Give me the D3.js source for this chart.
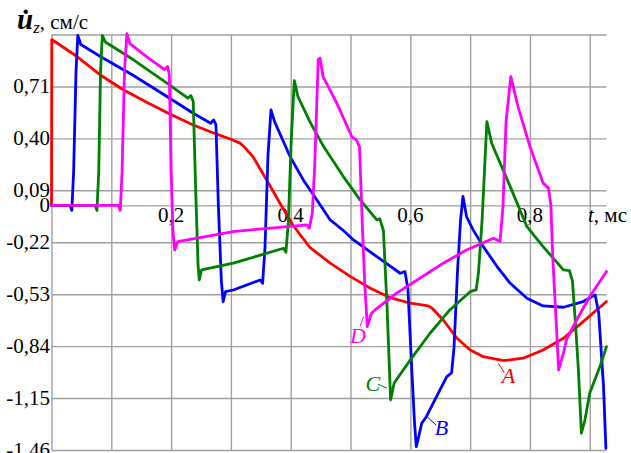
<!DOCTYPE html>
<html>
<head>
<meta charset="utf-8">
<script src="https://cdn.jsdelivr.net/npm/d3@7"></script>
<style>
  html, body { margin: 0; padding: 0; background: #ffffff; }
  svg { display: block; }
</style>
</head>
<body>
<svg id="chart" width="631" height="453" font-family="'Liberation Serif', 'Times New Roman', Times, serif"></svg>
<script>
// ---- data (t in ms, u̇z in cm/s) ----
const yTickValues = [0.71, 0.40, 0.09, 0, -0.22, -0.53, -0.84, -1.15, -1.46];
const yGridValues = [1.02, 0.71, 0.40, 0.09, 0, -0.22, -0.53, -0.84, -1.15, -1.46];
const xTickValues = [0.2, 0.4, 0.6, 0.8];
const xGridValues = [0, 0.1, 0.2, 0.3, 0.4, 0.5, 0.6, 0.7, 0.8, 0.9];

const seriesA = [[0,0],[0.0005,0.99],[0.042,0.89],[0.081,0.78],[0.12,0.69],[0.159,0.615],[0.198,0.545],[0.237,0.48],[0.276,0.425],[0.3,0.395],[0.316,0.37],[0.322,0.35],[0.337,0.29],[0.36,0.15],[0.382,0.013],[0.404,-0.12],[0.432,-0.25],[0.466,-0.345],[0.5,-0.425],[0.533,-0.494],[0.566,-0.55],[0.6,-0.584],[0.63,-0.6],[0.637,-0.615],[0.655,-0.684],[0.678,-0.793],[0.7,-0.863],[0.722,-0.903],[0.756,-0.927],[0.789,-0.912],[0.822,-0.863],[0.856,-0.793],[0.889,-0.694],[0.928,-0.574]];

const seriesB = [[0,0],[0.031,0],[0.034,-0.03],[0.037,0.2],[0.041,0.8],[0.044,1.015],[0.049,0.96],[0.081,0.89],[0.137,0.775],[0.193,0.65],[0.237,0.55],[0.266,0.49],[0.271,0.51],[0.275,0.48],[0.279,0.0],[0.284,-0.45],[0.287,-0.575],[0.291,-0.515],[0.304,-0.505],[0.349,-0.445],[0.353,-0.465],[0.357,-0.25],[0.362,0.3],[0.367,0.57],[0.373,0.5],[0.399,0.29],[0.421,0.152],[0.446,0.02],[0.466,-0.087],[0.488,-0.15],[0.505,-0.206],[0.544,-0.306],[0.583,-0.405],[0.591,-0.395],[0.596,-0.5],[0.602,-0.95],[0.607,-1.3],[0.61,-1.44],[0.614,-1.38],[0.619,-1.3],[0.627,-1.26],[0.644,-1.14],[0.661,-1.022],[0.669,-1.0],[0.673,-0.85],[0.679,-0.385],[0.684,-0.087],[0.688,0.053],[0.694,-0.067],[0.705,-0.146],[0.722,-0.246],[0.745,-0.365],[0.767,-0.465],[0.795,-0.554],[0.822,-0.6],[0.856,-0.608],[0.889,-0.574],[0.909,-0.534],[0.915,-0.644],[0.923,-1.08],[0.927,-1.45]];

const seriesC = [[0,0],[0.073,0],[0.076,-0.03],[0.079,0.2],[0.082,0.8],[0.085,1.015],[0.09,0.975],[0.137,0.869],[0.193,0.73],[0.228,0.64],[0.233,0.655],[0.237,0.62],[0.241,0.1],[0.245,-0.35],[0.247,-0.445],[0.251,-0.385],[0.304,-0.345],[0.388,-0.256],[0.392,-0.28],[0.396,-0.1],[0.401,0.4],[0.406,0.745],[0.412,0.65],[0.432,0.5],[0.455,0.351],[0.488,0.172],[0.516,0.033],[0.544,-0.087],[0.549,-0.08],[0.555,-0.15],[0.561,-0.6],[0.567,-1.16],[0.573,-1.06],[0.6,-0.922],[0.633,-0.763],[0.666,-0.624],[0.7,-0.515],[0.71,-0.504],[0.714,-0.4],[0.72,-0.087],[0.728,0.5],[0.736,0.371],[0.767,0.112],[0.795,-0.127],[0.822,-0.246],[0.856,-0.385],[0.866,-0.39],[0.871,-0.45],[0.876,-0.7],[0.881,-0.98],[0.886,-1.36],[0.892,-1.28],[0.9,-1.12],[0.917,-0.962],[0.928,-0.843]];

const seriesD = [[0,0],[0.112,0],[0.115,-0.03],[0.118,0.2],[0.122,0.8],[0.126,1.025],[0.131,0.965],[0.159,0.888],[0.189,0.81],[0.194,0.829],[0.197,0.78],[0.2,0.2],[0.203,-0.15],[0.206,-0.266],[0.211,-0.216],[0.304,-0.156],[0.427,-0.116],[0.431,-0.136],[0.436,-0.05],[0.44,0.23],[0.446,0.87],[0.449,0.879],[0.454,0.769],[0.477,0.61],[0.502,0.411],[0.51,0.39],[0.515,0.35],[0.52,-0.146],[0.524,-0.485],[0.528,-0.724],[0.535,-0.644],[0.541,-0.624],[0.577,-0.524],[0.616,-0.435],[0.655,-0.345],[0.694,-0.266],[0.739,-0.196],[0.75,-0.216],[0.755,0],[0.76,0.5],[0.768,0.769],[0.78,0.59],[0.8,0.351],[0.822,0.133],[0.831,0.103],[0.835,0.0],[0.838,-0.3],[0.848,-0.982],[0.856,-0.882],[0.861,-0.803],[0.878,-0.684],[0.9,-0.544],[0.928,-0.395]];

const seriesNames = ["A", "B", "C", "D"];
const seriesColors = ["#ff0000", "#0000ff", "#008000", "#ff00ff"];

// ---- layout ----
const svg = d3.select("#chart");
const x = d3.scaleLinear().domain([0, 0.928]).range([51.5, 606.5]);
const y = d3.scaleLinear().domain([-1.46, 1.02]).range([450, 34.5]);
const fmt = v => (v === 0 ? "0" : (v < 0 ? "-" : "") + Math.abs(v).toFixed(2).replace(".", ","));
const fmtX = v => v.toFixed(1).replace(".", ",");

// grid
const gridColor = "#a0a0a0";
svg.append("g")
  .attr("transform", `translate(${x.range()[0]},0)`)
  .call(d3.axisLeft(y).tickValues(yGridValues).tickSize(-(x.range()[1] - x.range()[0])).tickFormat(""))
  .call(g => g.select(".domain").remove())
  .call(g => g.selectAll("line").attr("stroke", gridColor).attr("stroke-width", 1.4));

svg.append("g")
  .attr("transform", `translate(0,${y.range()[0]})`)
  .call(d3.axisBottom(x).tickValues(xGridValues).tickSize(-(y.range()[0] - y.range()[1])).tickFormat(""))
  .call(g => g.select(".domain").remove())
  .call(g => g.selectAll("line").attr("stroke", gridColor).attr("stroke-width", 1.4));

const FF = "'Liberation Serif', 'Times New Roman', Times, serif";

// y labels
svg.append("g").selectAll("text").data(yTickValues).join("text")
  .attr("font-family", FF)
  .attr("x", 50).attr("y", d => y(d)).attr("dy", "0.33em")
  .attr("text-anchor", "end").attr("font-size", 21)
  .text(fmt);

// x labels
svg.append("g").selectAll("text").data(xTickValues).join("text")
  .attr("font-family", FF)
  .attr("x", d => x(d)).attr("y", 222)
  .attr("text-anchor", "middle").attr("font-size", 21)
  .text(fmtX);

// x title
const xt = svg.append("text").attr("font-family", FF).attr("x", 588).attr("y", 222).attr("font-size", 21);
xt.append("tspan").attr("font-style", "italic").text("t");
xt.append("tspan").text(", мс");

// y title
const yt = svg.append("text").attr("font-family", FF).attr("x", 17).attr("y", 29).attr("font-size", 29);
yt.append("tspan").attr("font-style", "italic").attr("font-weight", "bold").text("u\u0307");
yt.append("tspan").attr("font-style", "italic").attr("font-size", 17).attr("dy", 4).text("z");
yt.append("tspan").attr("font-size", 21).attr("dy", -4).text(", см/с");

// curves
const line = d3.line().x(d => x(d[0])).y(d => y(d[1]));
const allSeries = [seriesA, seriesB, seriesC, seriesD];
svg.append("g").selectAll("path").data(allSeries).join("path")
  .attr("d", line)
  .attr("fill", "none")
  .attr("stroke", (d, i) => seriesColors[i])
  .attr("stroke-width", 2.8)
  .attr("stroke-linejoin", "round")
  .attr("stroke-linecap", "round");

// curve labels with leader lines
const labelPos = [
  { t: 0.753, v: -1.060, l1: [0.747, -0.942], l2: [0.757, -0.998] },
  { t: 0.641, v: -1.370, l1: [0.628, -1.261], l2: [0.643, -1.311] },
  { t: 0.525, v: -1.110, l1: [0.546, -1.067], l2: [0.561, -1.091] },
  { t: 0.499, v: -0.820, l1: [0.516, -0.720], l2: [0.522, -0.664] }
];
const lg = svg.append("g");
labelPos.forEach((p, i) => {
  lg.append("line")
    .attr("x1", x(p.l1[0])).attr("y1", y(p.l1[1]))
    .attr("x2", x(p.l2[0])).attr("y2", y(p.l2[1]))
    .attr("stroke", seriesColors[i]).attr("stroke-width", 1);
  lg.append("text")
    .attr("font-family", FF)
    .attr("x", x(p.t)).attr("y", y(p.v))
    .attr("font-size", 22).attr("font-style", "italic")
    .attr("fill", seriesColors[i])
    .text(seriesNames[i]);
});
</script>
</body>
</html>
